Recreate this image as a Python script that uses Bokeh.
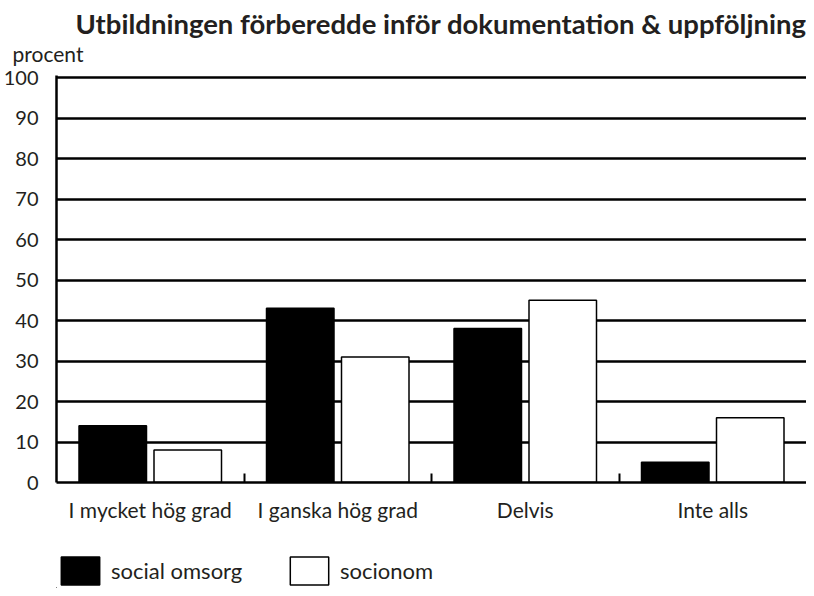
from bokeh.plotting import figure
from bokeh.layouts import column
from bokeh.models import (Range1d, FixedTicker, Legend, LegendItem, Title,
                          ColumnDataSource, LinearAxis, Grid)
from bokeh.transform import dodge
from bokeh.embed import file_html
from bokeh.resources import INLINE

categories = ["I mycket hög grad", "I ganska hög grad", "Delvis", "Inte alls"]
social_omsorg = [14, 43, 38, 5]
socionom = [8, 31, 45, 16]
y_ticks = [0, 10, 20, 30, 40, 50, 60, 70, 80, 90, 100]
series_names = ["social omsorg", "socionom"]

FONT = "Lato"
TXT = "#231f20"

centers = [i + 0.5 for i in range(len(categories))]
src = ColumnDataSource(dict(x=centers, a=social_omsorg, b=socionom))

p = figure(width=806, height=553, output_backend="svg", toolbar_location=None,
           x_range=Range1d(0, len(categories)), y_range=Range1d(0, 100.5),
           min_border_left=46, min_border_right=0, min_border_top=75,
           min_border_bottom=71, outline_line_color=None, x_axis_type=None,
           y_axis_type=None, title=None)

style_a = dict(fill_color="black", line_color="black", line_width=1.5)
style_b = dict(fill_color="white", line_color="black", line_width=1.5)

p.vbar(x=dodge("x", -0.2, range=p.x_range), top="a", width=0.36, bottom=0,
       source=src, **style_a)
p.vbar(x=dodge("x", 0.2, range=p.x_range), top="b", width=0.36, bottom=0,
       source=src, **style_b)

# y axis
yax = LinearAxis(ticker=FixedTicker(ticks=y_ticks, minor_ticks=[]))
yax.axis_line_width = 2.5
yax.axis_line_color = "black"
yax.major_tick_line_color = None
yax.minor_tick_line_color = None
yax.major_label_standoff = 12
yax.major_label_text_font = FONT
yax.major_label_text_font_size = "20px"
yax.major_label_text_color = TXT
p.add_layout(yax, "left")

# x axis
xax = LinearAxis(ticker=FixedTicker(ticks=centers, minor_ticks=list(range(1, len(categories)))))
xax.major_label_overrides = {c: name for c, name in zip(centers, categories)}
xax.axis_line_width = 2.5
xax.axis_line_color = "black"
xax.major_tick_line_color = None
xax.minor_tick_in = 9
xax.minor_tick_out = 0
xax.minor_tick_line_width = 2
xax.minor_tick_line_color = "black"
xax.major_label_standoff = 8
xax.major_label_text_font = FONT
xax.major_label_text_font_size = "21px"
xax.major_label_text_color = TXT
p.add_layout(xax, "below")

grid = Grid(dimension=1, ticker=FixedTicker(ticks=y_ticks[1:]),
            grid_line_color="black", grid_line_width=2.5)
p.add_layout(grid)

# titles
sub = Title(text="procent", align="left", offset=-44, text_font=FONT,
            text_font_size="21px", text_font_style="normal", text_color=TXT,
            standoff=19)
p.add_layout(sub, "above")
main = Title(text="Utbildningen förberedde inför dokumentation & uppföljning",
             align="right", offset=0, text_font=FONT, text_font_size="27.5px",
             text_font_style="bold", text_color=TXT, standoff=-20)
p.add_layout(main, "above")

# legend strip (its renderers reuse the data source but lie outside its view)
lf = figure(width=806, height=35, output_backend="svg", toolbar_location=None,
            x_range=Range1d(100, 101), y_range=Range1d(100, 101),
            min_border_left=36, min_border_right=0, min_border_top=0,
            min_border_bottom=0, outline_line_color=None, x_axis_type=None,
            y_axis_type=None, title=None)
lf.xgrid.visible = False
lf.ygrid.visible = False
la = lf.vbar(x="x", top="a", width=0.36, source=src, **style_a)
lb = lf.vbar(x="x", top="b", width=0.36, source=src, **style_b)
legend = Legend(items=[LegendItem(label=series_names[0], renderers=[la]),
                       LegendItem(label=series_names[1], renderers=[lb])],
                orientation="horizontal", location="top_left",
                glyph_width=48, glyph_height=35, label_standoff=7,
                label_width=164, spacing=10, padding=0, margin=0,
                border_line_color=None, background_fill_alpha=0,
                label_text_font=FONT, label_text_font_size="22px",
                label_text_color=TXT)
lf.add_layout(legend, "center")

layout = column(p, lf, spacing=0)
open("out.html", "w").write(file_html(layout, INLINE))
